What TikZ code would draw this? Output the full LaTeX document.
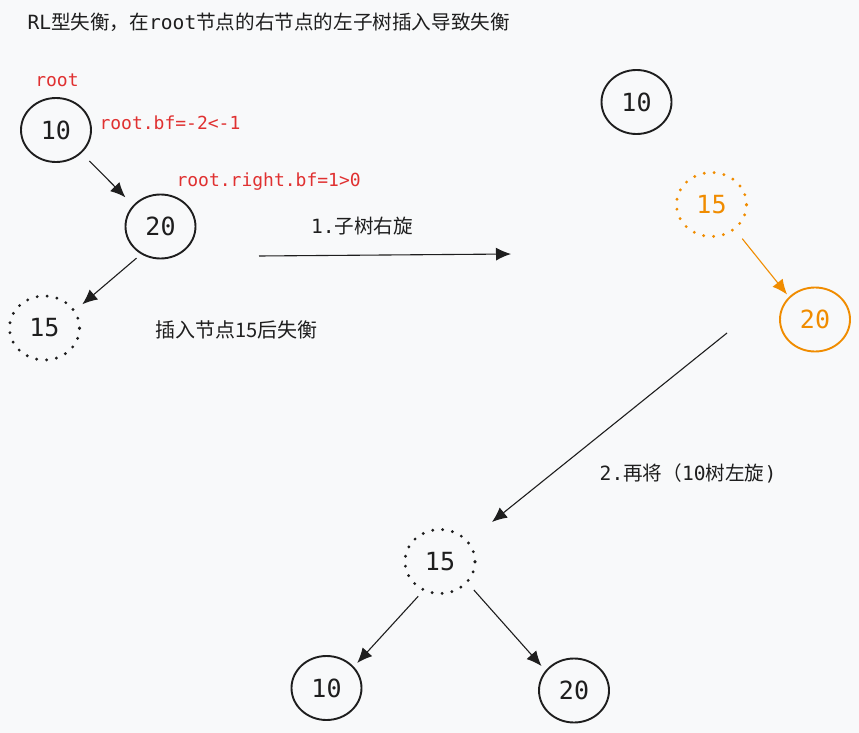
\documentclass[tikz,border=0pt]{standalone}
\usepackage{fontspec}
\setmonofont{DejaVu Sans Mono}
\newfontfamily\cjk{Noto Sans CJK SC}
\usetikzlibrary{shapes.geometric,arrows.meta}
\definecolor{ink}{HTML}{1E1E1E}
\definecolor{alert}{HTML}{E03131}
\definecolor{warn}{HTML}{F08C00}
\definecolor{paper}{HTML}{F8F9FA}
\begin{document}
\begin{tikzpicture}[x=1pt,y=-1pt,
   tnode/.style={ellipse,draw=ink,line width=1.9pt,minimum width=70pt,minimum height=64pt,inner sep=0pt,text=ink,font=\ttfamily\fontsize{25}{25}\selectfont},
   dnode/.style={tnode,dash pattern=on 0pt off 10pt,line cap=round,line width=3.2pt},
   conn/.style={ink,line width=1.1pt,-{Latex[length=15pt,width=13pt]}},
   txt/.style={text=ink,font=\fontsize{19.6}{20}\selectfont},
   bftext/.style={text=alert,font=\ttfamily\fontsize{18}{18}\selectfont}]
   \useasboundingbox (0,0) rectangle (859,733);
   \fill [paper] (0,0) rectangle (859,733);
   % title
   \node [txt,anchor=west] (title) at (24,22) {{\ttfamily RL}{\cjk 型失衡，在}{\ttfamily root}{\cjk 节点的右节点的左子树插入导致失衡}};
   % before the rotation
   \node [tnode] (a10) at (56,130) {10};
   \node [tnode] (a20) at (160.5,226.5) {20};
   \node [dnode] (a15) at (44.5,328) {15};
   \node [bftext] (lroot) at (57,80) {root};
   \node [bftext,anchor=west] (lbf) at (96,123) {root.bf=-2<-1};
   \node [bftext,anchor=west] (lrbf) at (173,182) {root.right.bf=1>0};
   \node [txt,font=\fontsize{20}{20}\selectfont] (lins) at (236.5,330) {\cjk 插入节点15后失衡};
   \draw [conn,shorten <=11pt,shorten >=11pt] (a10.-42) -- (a20.142);
   \draw [conn,shorten <=6pt,shorten >=9pt] (a20.235) -- (a15.30);
   % step 1
   \coordinate (s1a) at (259,256);
   \coordinate (s1b) at (511,254);
   \draw [conn] (s1a) -- (s1b);
   \node [txt] (ls1) at (362,226) {{\ttfamily 1.}{\cjk 子树右旋}};
   % after the right rotation
   \node [tnode] (b10) at (636.5,102) {10};
   \node [dnode,draw=warn,text=warn] (b15) at (711.5,204.5) {15};
   \node [tnode,draw=warn,text=warn] (b20) at (815,319.5) {20};
   \draw [conn,warn,shorten <=11pt,shorten >=3pt] (b15.-47) -- (b20.139);
   % step 2
   \coordinate (s2a) at (727,333);
   \coordinate (s2b) at (492,522);
   \draw [conn] (s2a) -- (s2b);
   \node [txt] (ls2) at (688,473) {{\ttfamily 2.}{\cjk 再将（}{\ttfamily 10}{\cjk 树左旋}{\ttfamily )}};
   % balanced tree
   \node [dnode] (c15) at (440,561.5) {15};
   \node [tnode] (c10) at (326.5,688) {10};
   \node [tnode] (c20) at (574,690.5) {20};
   \draw [conn,shorten <=7pt,shorten >=5pt] (c15.240) -- (c10.38);
   \draw [conn,shorten <=9pt,shorten >=6pt] (c15.-38) -- (c20.145);
\end{tikzpicture}
\end{document}
